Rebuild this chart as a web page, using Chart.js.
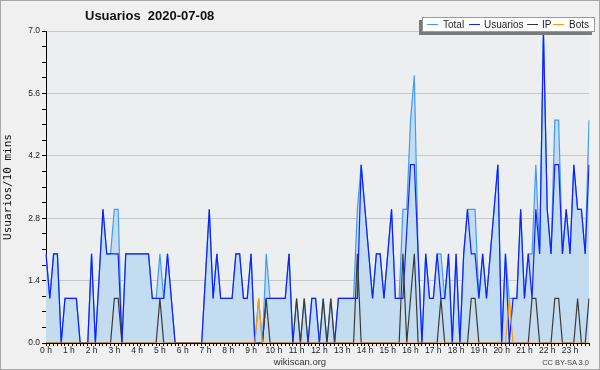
<!DOCTYPE html>
<html>
<head>
<meta charset="utf-8">
<script src="https://cdn.jsdelivr.net/npm/chart.js@4/dist/chart.umd.min.js"></script>
<style>
  html, body { margin: 0; padding: 0; background: #f0f0f0; }
  #wrap { position: relative; width: 600px; height: 370px; background: #f0f0f0; font-family: "Liberation Sans", Arial, sans-serif; color: #222; }
  #c { position: absolute; left: 0; top: 0; }
  #frame { position: absolute; left: 0; top: 0; width: 598px; height: 368px; border: 1px solid #a8a8a8; pointer-events: none; }
  #title { position: absolute; left: 85px; top: 8px; font-size: 13px; font-weight: bold; white-space: pre; color: #111; }
  #legend { position: absolute; left: 422px; top: 17px; width: 171px; height: 13px; background: #fff; border: 1px solid #9a9a9a; box-shadow: -3px 3px 0 #7a7a7a; }
  .li { position: absolute; top: 6px; width: 11px; height: 0; border-top: 1px solid; }
  .lt { position: absolute; top: 0px; font-size: 10px; line-height: 13px; color: #222; }
  #site { position: absolute; left: 0; width: 600px; top: 356px; text-align: center; font-size: 9.5px; color: #333; }
  #lic { position: absolute; right: 11px; top: 358px; font-size: 7.5px; color: #444; }
</style>
</head>
<body>
<div id="wrap">
  <canvas id="c" width="600" height="370"></canvas>
  <div id="title">Usuarios  2020-07-08</div>
  <div id="legend">
    <div class="li" style="left:4px;border-color:#3d9cf5"></div><div class="lt" style="left:20px">Total</div>
    <div class="li" style="left:46px;border-color:#1020ff"></div><div class="lt" style="left:61px">Usuarios</div>
    <div class="li" style="left:104px;border-color:#333"></div><div class="lt" style="left:119px">IP</div>
    <div class="li" style="left:130px;border-color:#ff9a00"></div><div class="lt" style="left:146px">Bots</div>
  </div>
  <div id="site">wikiscan.org</div>
  <div id="lic">CC BY-SA 3.0</div>
  <div id="frame"></div>
</div>
<script>
// tick labels del eje x (una por hora)
var hourLabels = ['0 h','1 h','2 h','3 h','4 h','5 h','6 h','7 h','8 h','9 h','10 h','11 h',
  '12 h','13 h','14 h','15 h','16 h','17 h','18 h','19 h','20 h','21 h','22 h','23 h'];

// valores cada 10 minutos (144 puntos)
var total = [
  2,1,2,2,0,1,1,1,1,0, 0,0,2,0,1.5,3,2,2,3,3, 0,2,2,2,2,2,2,2,1,1,
  2,1,2,1,0,0,0,0,0,0, 0,0,1.5,3,1,2,1,1,1,1, 2,2,1,1,2,0,1,0,2,1,
  1,1,1,1,2,0,1,0,1,0, 1,1,0,1,0,1,0,1,1,1, 1,1,3,4,3,2,1,2,2,1,
  2,3,1,1,3,3,5,6,2,0, 2,1,1,2,2,1,2,0,2,0, 2,3,3,3,1,2,1,2,3,4,
  0,2,1,1,1,3,1,2,2,4, 2,7,3,2,5,5,2,3,2,4, 3,3,2,5
];
var usuarios = [
  2,1,2,2,0,1,1,1,1,0, 0,0,2,0,1.5,3,2,2,2,2, 0,2,2,2,2,2,2,2,1,1,
  1,1,2,1,0,0,0,0,0,0, 0,0,1.5,3,1,2,1,1,1,1, 2,2,1,1,2,0,0,0,1,1,
  1,1,1,1,2,0,0,0,0,0, 1,1,0,0,0,0,0,1,1,1, 1,1,1,4,3,2,1,2,2,1,
  2,3,1,1,1,2.5,4,4,2,0, 2,1,1,2,1,1,2,0,2,0, 2,3,2,2,1,2,1,2,3,4,
  0,2,0,1,1,3,1,2,1,3, 2,7,3,2,4,4,2,3,2,4, 3,3,2,4
];
var ip = [
  0,0,0,0,0,0,0,0,0,0, 0,0,0,0,0,0,0,0,1,1, 0,0,0,0,0,0,0,0,0,0,
  1,0,0,0,0,0,0,0,0,0, 0,0,0,0,0,0,0,0,0,0, 0,0,0,0,0,0,0,0,1,0,
  0,0,0,0,0,0,1,0,1,0, 0,0,0,1,0,1,0,0,0,0, 0,0,2,0,0,0,0,0,0,0,
  0,0,0,0,2,0,1,2,0,0, 0,0,0,0,1,0,0,0,0,0, 0,0,1,1,0,0,0,0,0,0,
  0,0,0,0,0,0,0,0,1,1, 0,0,0,0,1,1,0,0,0,0, 1,0,0,1
];
var bots = [
  0,0,0,0,0,0,0,0,0,0, 0,0,0,0,0,0,0,0,0,0, 0,0,0,0,0,0,0,0,0,0,
  0,0,0,0,0,0,0,0,0,0, 0,0,0,0,0,0,0,0,0,0, 0,0,0,0,0,0,1,0,0,0,
  0,0,0,0,0,0,0,0,0,0, 0,0,0,0,0,0,0,0,0,0, 0,0,0,0,0,0,0,0,0,0,
  0,0,0,0,0,0,0,0,0,0, 0,0,0,0,0,0,0,0,0,0, 0,0,0,0,0,0,0,0,0,0,
  0,0,1,0,0,0,0,0,0,0, 0,0,0,0,0,0,0,0,0,0, 0,0,0,0
];

// categorias: franjas de 10 minutos
var slots = [];
for (var h = 0; h < 24; h++) {
  for (var m = 0; m < 60; m += 10) {
    slots.push((h < 10 ? '0' : '') + h + ':' + (m === 0 ? '00' : m));
  }
}

// fondo del area del grafico
var plotBg = {
  id: 'plotBg',
  beforeDraw: function(chart) {
    var a = chart.chartArea, ctx = chart.ctx;
    ctx.save();
    ctx.fillStyle = '#eceef0';
    ctx.fillRect(a.left, a.top, a.right - a.left, a.bottom - a.top);
    ctx.restore();
  }
};

function isMajor(v) {
  var r = v / 1.4;
  return Math.abs(r - Math.round(r)) < 1e-6;
}

var ctx = document.getElementById('c').getContext('2d');
new Chart(ctx, {
  type: 'line',
  data: {
    labels: slots,
    datasets: [
      { label: 'Bots', data: bots, borderColor: '#ff9a00', order: 1 },
      { label: 'IP', data: ip, borderColor: '#3a3a3a', order: 2 },
      { label: 'Usuarios', data: usuarios, borderColor: '#1020ff', order: 3 },
      { label: 'Total', data: total, borderColor: '#3d9cf5', backgroundColor: '#c4dcf0', fill: 'origin', order: 4 }
    ]
  },
  options: {
    responsive: false,
    animation: false,
    layout: { padding: { left: 0, right: 11, top: 31, bottom: 13 } },
    elements: {
      point: { radius: 0 },
      line: { borderWidth: 1.2, tension: 0 }
    },
    plugins: { legend: { display: false }, tooltip: { enabled: false } },
    scales: {
      x: {
        offset: false,
        border: { color: '#000' },
        grid: { drawOnChartArea: false, color: '#000', tickLength: 3 },
        ticks: {
          autoSkip: false, maxRotation: 0, padding: 0, color: '#222',
          font: { family: 'Liberation Sans', size: 8.5 },
          callback: function(v, i) { return i % 6 === 0 ? hourLabels[i / 6] : ''; }
        },
        afterFit: function(s) { s.height = 14; }
      },
      y: {
        min: 0, max: 7,
        border: { color: '#000' },
        grid: {
          color: function(c) { return isMajor(c.tick.value) ? '#c8c8c8' : 'rgba(0,0,0,0)'; },
          tickColor: '#000', tickLength: 4
        },
        ticks: {
          stepSize: 0.35, padding: 2, color: '#222',
          font: { family: 'Liberation Sans', size: 8.5 },
          callback: function(v) { return isMajor(v) ? v.toFixed(1) : ''; }
        },
        title: {
          display: true, text: 'Usuarios/10 mins', color: '#111',
          font: { family: 'DejaVu Sans Mono', size: 11 },
          padding: { top: 2, bottom: 0 }
        },
        afterFit: function(s) { s.width = 46; }
      }
    }
  },
  plugins: [plotBg]
});
</script>
</body>
</html>
